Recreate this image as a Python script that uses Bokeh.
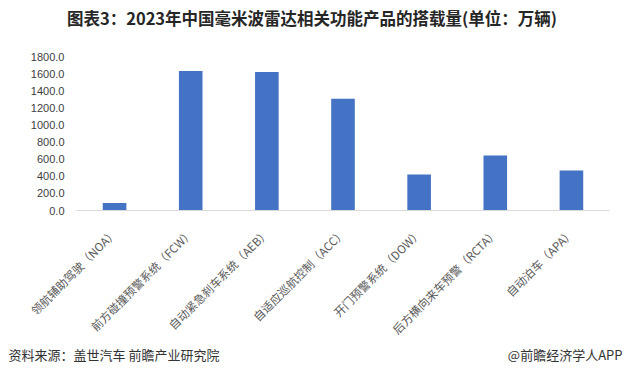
import math
from bokeh.plotting import figure
from bokeh.models import ColumnDataSource, FixedTicker, NumeralTickFormatter, Range1d
from bokeh.core.properties import value
from bokeh.embed import file_html
from bokeh.resources import INLINE

categories = ["领航辅助驾驶（NOA）", "前方碰撞预警系统（FCW）", "自动紧急刹车系统（AEB）",
              "自适应巡航控制（ACC）", "开门预警系统（DOW）", "后方横向来车预警（RCTA）", "自动泊车（APA）"]
values = [88, 1630, 1620, 1305, 422, 643, 468]
y_ticks = [0, 200, 400, 600, 800, 1000, 1200, 1400, 1600, 1800]

title_text = "图表3：2023年中国毫米波雷达相关功能产品的搭载量(单位：万辆)"
source_text = "资料来源：盖世汽车 前瞻产业研究院"
brand_text = "@前瞻经济学人APP"

W, H = 623, 376
TITLE_H, FOOT_H = 40, 30
MAIN_H = H - TITLE_H - FOOT_H
FRAME_TOP, FRAME_BOTTOM = 55.5, 210


def text_fig(h):
    f = figure(width=W, height=h, x_range=Range1d(0, W), y_range=Range1d(0, h),
               x_axis_type=None, y_axis_type=None,
               output_backend="svg", toolbar_location=None,
               min_border=0, min_border_left=0, min_border_right=0,
               min_border_top=0, min_border_bottom=0)
    f.grid.visible = False
    f.outline_line_color = None
    f.background_fill_color = "white"
    f.border_fill_color = "white"
    return f


# title strip
t = text_fig(TITLE_H)
t.text(x=[311.5], y=[TITLE_H - 17], text=[title_text], text_font=value("Noto Sans CJK SC"),
       text_font_style="bold", text_font_size="16.5px", text_color="#262626",
       text_align="center", text_baseline="middle")

# main chart
p = figure(width=W, height=MAIN_H, x_range=categories, y_range=Range1d(0, 1800),
           output_backend="svg", toolbar_location=None,
           min_border_left=76, min_border_right=14,
           min_border_top=int(round(FRAME_TOP - TITLE_H)),
           min_border_bottom=int(round(MAIN_H - (FRAME_BOTTOM - TITLE_H))))
p.outline_line_color = None
p.background_fill_color = "white"
p.border_fill_color = "white"
p.xgrid.grid_line_color = None
p.ygrid.grid_line_color = None

src = ColumnDataSource(dict(cat=categories, val=values))
p.vbar(x="cat", top="val", width=0.31, source=src, fill_color="#4472C4", line_color=None)

p.yaxis.ticker = FixedTicker(ticks=y_ticks)
p.yaxis.formatter = NumeralTickFormatter(format="0.0")
p.yaxis.axis_line_color = None
p.yaxis.major_tick_line_color = None
p.yaxis.minor_tick_line_color = None
p.yaxis.major_label_text_font = "Liberation Sans"
p.yaxis.major_label_text_font_size = "11px"
p.yaxis.major_label_text_color = "#404040"
p.yaxis.major_label_standoff = 6

p.xaxis.axis_line_color = "#d9d9d9"
p.xaxis.axis_line_width = 1
p.xaxis.major_tick_line_color = None
p.xaxis.minor_tick_line_color = None
p.xaxis.major_label_orientation = math.pi / 4
p.xaxis.major_label_text_font = "Noto Sans CJK SC"
p.xaxis.major_label_text_font_size = "11.5px"
p.xaxis.major_label_text_color = "#595959"
p.xaxis.major_label_standoff = 14

# footer strip
f = text_fig(FOOT_H)
fy = FOOT_H - (354 - (H - FOOT_H))
f.text(x=[8], y=[fy], text=[source_text], text_font=value("Noto Sans CJK SC"),
       text_font_size="13px", text_color="#333333", text_align="left", text_baseline="middle")
f.text(x=[W - 1], y=[fy], text=[brand_text], text_font=value("Noto Sans CJK SC"),
       text_font_size="13px", text_color="#333333", text_align="right", text_baseline="middle")

open("out.html", "w").write(file_html([t, p, f], INLINE))
